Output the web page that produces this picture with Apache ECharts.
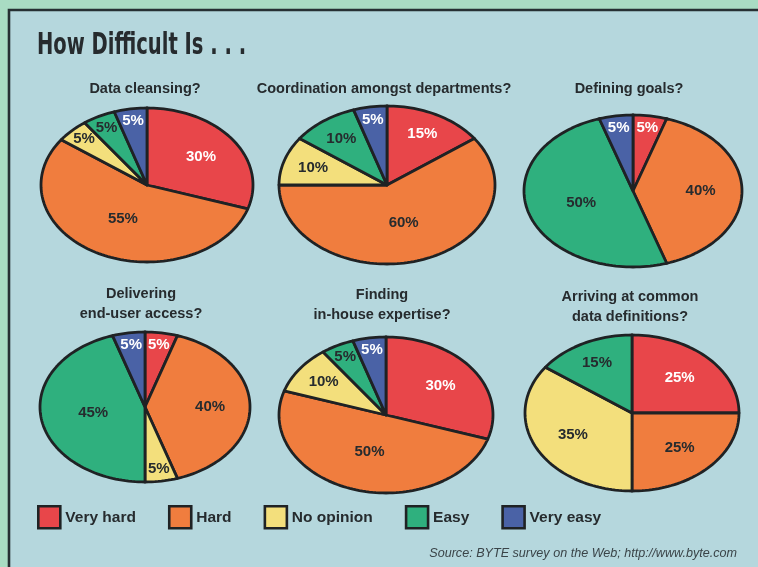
<!DOCTYPE html>
<html>
<head>
<meta charset="utf-8">
<script src="https://cdn.jsdelivr.net/npm/echarts@6/dist/echarts.min.js"></script>
<style>
  html, body { margin: 0; padding: 0; background: #a9dcc3; }
  #chart { width: 758px; height: 567px; }
</style>
</head>
<body>
<div id="chart"></div>
<script>
// ---- data ----
const categories = ['Very hard', 'Hard', 'No opinion', 'Easy', 'Very easy'];
const pieTitles = [
  'Data cleansing?',
  'Coordination amongst departments?',
  'Defining goals?',
  'Delivering\nend-user access?',
  'Finding\nin-house expertise?',
  'Arriving at common\ndata definitions?'
];
const dataCleansing     = [30, 55, 5, 5, 5];
const coordination      = [15, 60, 10, 10, 5];
const definingGoals     = [5, 40, 0, 50, 5];
const deliveringAccess  = [5, 40, 5, 45, 5];
const findingExpertise  = [30, 50, 10, 5, 5];
const commonDefinitions = [25, 25, 35, 15, 0];
const pieValues = [dataCleansing, coordination, definingGoals, deliveringAccess, findingExpertise, commonDefinitions];
const mainTitle = 'How Difficult Is . . .';
const sourceText = 'Source: BYTE survey on the Web; http://www.byte.com';

// ---- styling / layout ----
const colors = ['#e8464a', '#f07d3e', '#f3df7c', '#2fb07e', '#4a62a6'];
const lightLabel = [true, false, false, false, true];
const outline = '#1f2224';
const textDark = '#262b2e';
// pie ellipse boxes: center x, center y, radius x, radius y
const pieBoxes = [
  [147, 185, 106, 77],
  [387, 185, 108, 79],
  [633, 191, 109, 76],
  [145, 407, 105, 75],
  [386, 415, 107, 78],
  [632, 413, 107, 78]
];
const titlePos = [
  [145, 79], [384, 79], [629, 79],
  [141, 284], [382, 285], [630, 287]
];

function labelFrac(v) {
  if (v <= 5) return 0.84;
  if (v <= 15) return 0.72;
  if (v <= 30) return 0.63;
  if (v <= 40) return 0.62;
  return 0.5;
}

const grids = [], xAxes = [], yAxes = [], series = [];
pieBoxes.forEach((b, i) => {
  grids.push({ left: b[0] - b[2], top: b[1] - b[3], width: 2 * b[2], height: 2 * b[3] });
  xAxes.push({ type: 'value', gridIndex: i, min: -1, max: 1, show: false });
  yAxes.push({ type: 'value', gridIndex: i, min: -1, max: 1, show: false });
  let cum = 0;
  const d = pieValues[i].map((v, ci) => { const item = [cum, v, ci]; cum += v; return item; });
  series.push({
    type: 'custom',
    xAxisIndex: i,
    yAxisIndex: i,
    clip: false,
    silent: true,
    data: d,
    renderItem: function (params, api) {
      const start = api.value(0), val = api.value(1), ci = api.value(2);
      if (!val) return null;
      const a0 = start / 100 * Math.PI * 2;
      const a1 = (start + val) / 100 * Math.PI * 2;
      const pts = [api.coord([0, 0])];
      const steps = Math.max(4, Math.ceil(val * 2));
      for (let k = 0; k <= steps; k++) {
        const t = a0 + (a1 - a0) * k / steps;
        pts.push(api.coord([Math.sin(t), Math.cos(t)]));
      }
      const mid = (a0 + a1) / 2;
      const f = labelFrac(val);
      const lp = api.coord([f * Math.sin(mid), f * Math.cos(mid)]);
      return {
        type: 'group',
        children: [
          { type: 'polygon', shape: { points: pts },
            style: { fill: colors[ci], stroke: outline, lineWidth: 2.8, lineJoin: 'round' } },
          { type: 'text', x: lp[0], y: lp[1], z2: 50,
            style: { text: val + '%', align: 'center', verticalAlign: 'middle',
                     fill: lightLabel[ci] ? '#ffffff' : textDark,
                     font: 'bold 15px "Liberation Sans", Arial, sans-serif' } }
        ]
      };
    }
  });
});
// legend-only series
categories.forEach((c, ci) => {
  series.push({
    type: 'custom', name: c, xAxisIndex: 0, yAxisIndex: 0, data: [],
    itemStyle: { color: colors[ci] },
    renderItem: function () { return null; }
  });
});

const graphics = [
  { type: 'rect', z: -10, silent: true,
    shape: { x: 9, y: 10, width: 800, height: 600 },
    style: { fill: '#b5d7dd', stroke: '#263033', lineWidth: 2.6 } },
  { type: 'text', x: 37, y: 46, scaleX: 0.63, silent: true,
    style: { text: mainTitle, align: 'left', verticalAlign: 'middle', fill: textDark,
             font: 'bold 31px "DejaVu Sans", sans-serif' } },
  { type: 'text', x: 737, y: 553, silent: true,
    style: { text: sourceText, align: 'right', verticalAlign: 'middle', fill: '#3a4448',
             font: 'italic 12.6px "Liberation Sans", sans-serif' } }
];
pieTitles.forEach((t, i) => {
  graphics.push({ type: 'text', x: titlePos[i][0], y: titlePos[i][1], silent: true,
    style: { text: t, align: 'center', verticalAlign: 'top', fill: textDark, lineHeight: 20,
             font: 'bold 14.5px "Liberation Sans", Arial, sans-serif' } });
});

const chart = echarts.init(document.getElementById('chart'), null, { renderer: 'canvas' });
chart.setOption({
  backgroundColor: 'transparent',
  animation: false,
  grid: grids,
  xAxis: xAxes,
  yAxis: yAxes,
  legend: {
    data: categories,
    left: 37, top: 505, padding: 0,
    itemGap: 32, itemWidth: 22, itemHeight: 22,
    icon: 'rect', selectedMode: false,
    itemStyle: { borderColor: outline, borderWidth: 2.6 },
    textStyle: { fontSize: 15.5, fontWeight: 'bold', color: textDark, fontFamily: '"Liberation Sans", Arial, sans-serif' }
  },
  graphic: graphics,
  series: series
});
</script>
</body>
</html>
